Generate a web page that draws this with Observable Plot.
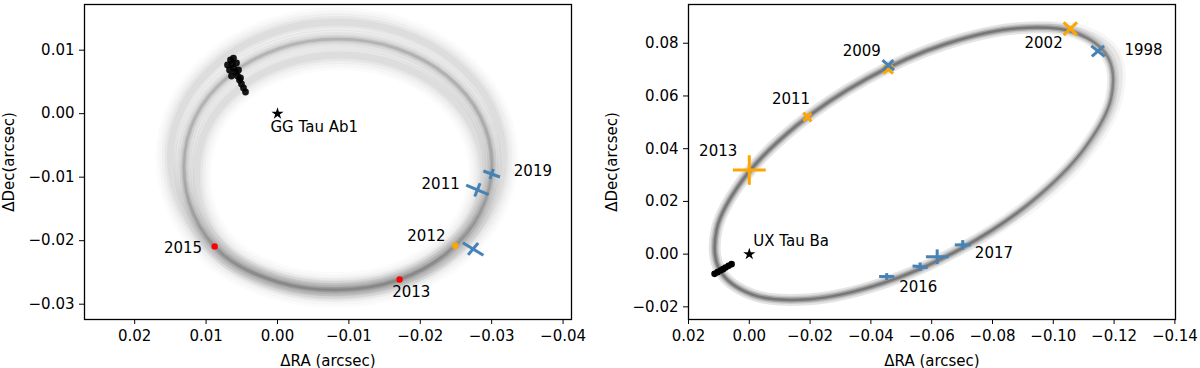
<!DOCTYPE html>
<html><head><meta charset="utf-8">
<script src="https://cdn.jsdelivr.net/npm/d3@7"></script>
<script src="https://cdn.jsdelivr.net/npm/@observablehq/plot@0.6"></script>
<style>
body{margin:0;background:#fff;}
#wrap{display:flex;width:1200px;height:368px;overflow:hidden;}
#wrap svg{display:block;}
</style></head><body><div id="wrap"></div>
<script>
// ================= LEFT PANEL: GG Tau Ab =================
const ggXTicks = [0.02, 0.01, 0.00, -0.01, -0.02, -0.03, -0.04];
const ggYTicks = [0.01, 0.00, -0.01, -0.02, -0.03];
// orbit samples (ΔRA, ΔDec): central, outer and inner envelope of the orbit bundle
const ggOrbitMid = [[-0.03004,-0.00799],[-0.02840,-0.01556],[-0.02373,-0.02195],[-0.01674,-0.02625],[-0.00847,-0.02774],[-0.00021,-0.02656],[0.00742,-0.02239],[0.01176,-0.01578],[0.01310,-0.00799],[0.01146,-0.00042],[0.00678,0.00596],[-0.00021,0.01026],[-0.00847,0.01175],[-0.01674,0.01026],[-0.02373,0.00596],[-0.02840,-0.00042]];
const ggOrbitOuter = [[-0.03165,-0.00689],[-0.02987,-0.01506],[-0.02482,-0.02197],[-0.01725,-0.02659],[-0.00833,-0.02821],[0.00014,-0.02696],[0.00798,-0.02271],[0.01317,-0.01531],[0.01499,-0.00689],[0.01321,0.00127],[0.00815,0.00818],[0.00059,0.01281],[-0.00833,0.01443],[-0.01725,0.01281],[-0.02482,0.00818],[-0.02987,0.00127]];
const ggOrbitInner = [[-0.02885,-0.00902],[-0.02732,-0.01600],[-0.02297,-0.02192],[-0.01644,-0.02589],[-0.00875,-0.02727],[-0.00070,-0.02617],[0.00658,-0.02208],[0.01036,-0.01594],[0.01134,-0.00902],[0.00982,-0.00203],[0.00546,0.00389],[-0.00106,0.00785],[-0.00875,0.00924],[-0.01644,0.00785],[-0.02297,0.00389],[-0.02732,-0.00203]];
const ggCluster = [[0.00658,0.00845],[0.00637,0.00782],[0.00616,0.00719],[0.00588,0.00656],[0.00560,0.00593],[0.00532,0.00530],[0.00504,0.00467],[0.00476,0.00404],[0.00448,0.00341],[0.00700,0.00766],[0.00574,0.00798],[0.00672,0.00688],[0.00546,0.00688],[0.00644,0.00593],[0.00518,0.00562],[0.00616,0.00876]];
const ggStar = [[0, 0]];
const ggRed = [[0.0088,-0.0209],[-0.0171,-0.0261]];
const ggOrange = [[-0.0249,-0.0208]];
// [x, y, arm1 dx, arm1 dy, arm2 dx, arm2 dy]
const ggBlue = [[-0.0280,-0.0120,0.00157,0.00074,-0.00038,0.00105],[-0.0300,-0.0095,0.00116,0.00047,-0.00024,0.00079],[-0.0274,-0.0213,0.00144,0.00099,-0.00070,0.00094]];
const ggLabels = [["GG Tau Ab1",0.00098,-0.00214,"start"],["2015",0.01055,-0.0212,"end"],["2013",-0.01606,-0.02817,"start"],["2012",-0.02353,-0.01924,"end"],["2011",-0.02553,-0.01106,"end"],["2019",-0.0331,-0.00913,"start"]];

// ================= RIGHT PANEL: UX Tau B =================
const uxXTicks = [0.02, 0.00, -0.02, -0.04, -0.06, -0.08, -0.10, -0.12, -0.14];
const uxYTicks = [0.08, 0.06, 0.04, 0.02, 0.00, -0.02];
const uxOrbitMid = [[-0.11797,0.07469],[-0.11901,0.05926],[-0.11015,0.04002],[-0.09278,0.01990],[-0.06951,0.00200],[-0.04392,-0.01102],[-0.01987,-0.01709],[-0.00105,-0.01538],[0.00970,-0.00608],[0.01074,0.00934],[0.00188,0.02859],[-0.01549,0.04870],[-0.03875,0.06661],[-0.06435,0.07962],[-0.08840,0.08570],[-0.10722,0.08399]];
const uxOrbitOuter = [[-0.12017,0.07610],[-0.12102,0.05937],[-0.11180,0.03924],[-0.09400,0.01911],[-0.06951,0.00200],[-0.04392,-0.01102],[-0.01987,-0.01709],[-0.00105,-0.01538],[0.00970,-0.00608],[0.01074,0.00934],[0.00188,0.02859],[-0.01549,0.04870],[-0.03875,0.06661],[-0.06435,0.07962],[-0.08840,0.08570],[-0.10899,0.08482]];
const uxCluster = [[0.01143,-0.00748],[0.01044,-0.00684],[0.00946,-0.00623],[0.00863,-0.00570],[0.00781,-0.00509],[0.00682,-0.00444],[0.00583,-0.00380]];
const uxStar = [[0, 0]];
const uxOrange = [[0.0000,0.0319,0.0054,0,0,0.0056],[-0.0191,0.0520,0.0013,0.0017,-0.0013,0.0015],[-0.0457,0.0700,0.0016,0.0015,-0.0016,0.0015],[-0.1056,0.0855,0.0022,0.0024,-0.0022,0.0024]];
const uxBlue = [[-0.0457,0.0717,0.0019,0.0019,-0.0017,0.0019],[-0.1147,0.0770,0.0022,0.0020,-0.0020,0.0020],[-0.0452,-0.0085,0.0025,0,0,0.0013],[-0.0562,-0.0048,0.0025,0.0003,0,0.0016],[-0.0618,-0.0010,0.0037,0,0,0.0028],[-0.0702,0.0035,0.0026,0,0,0.0018]];
const uxLabels = [["UX Tau Ba",-0.0013,0.00505,"start"],["2013",0.00395,0.0390,"end"],["2011",-0.0200,0.0589,"end"],["2009",-0.0433,0.0770,"end"],["2002",-0.1031,0.0799,"end"],["1998",-0.1234,0.0772,"start"],["2016",-0.0493,-0.0127,"start"],["2017",-0.0742,0.0002,"start"]];

// ================= helpers =================
const BLUE = "#4682b4", ORANGE = "#ffa500";
function band(orbit, layers) {
  return layers.map(([w, a]) => Plot.line(orbit, {
    x: d => d[0], y: d => d[1], curve: "catmull-rom-closed",
    stroke: "#000", strokeOpacity: a, strokeWidth: w, strokeLinejoin: "round"
  }));
}
function crossSegs(list) {
  const segs = [];
  for (const [x, y, a1x, a1y, a2x, a2y] of list) {
    segs.push({x1: x - a1x, y1: y - a1y, x2: x + a1x, y2: y + a1y});
    segs.push({x1: x - a2x, y1: y - a2y, x2: x + a2x, y2: y + a2y});
  }
  return segs;
}
function crosses(list, color) {
  return Plot.link(crossSegs(list), {x1: "x1", y1: "y1", x2: "x2", y2: "y2", stroke: color, strokeWidth: 3, strokeLinecap: "butt"});
}
function labels(list) {
  return ["start", "end"].map(anchor => Plot.text(list.filter(d => d[3] === anchor), {
    x: d => d[1], y: d => d[2], text: d => d[0], textAnchor: anchor,
    lineAnchor: "middle", fill: "#000", fontSize: 15
  }));
}
const style = {fontFamily: "'DejaVu Sans', sans-serif", fontSize: "15px", color: "#000", background: "#fff", overflow: "visible"};

// ================= left plot =================
const soft = [[30, 0.016], [24, 0.02], [18, 0.028], [12, 0.035], [7, 0.04]];
const left = Plot.plot({
  width: 600, height: 368,
  marginLeft: 84, marginRight: 29, marginTop: 4, marginBottom: 49,
  style,
  x: {domain: [0.02703, -0.04118], ticks: ggXTicks, tickFormat: ".2f", tickSize: 5, tickPadding: 6,
      label: "ΔRA (arcsec)", labelAnchor: "center", labelArrow: "none"},
  y: {domain: [-0.03241, 0.01719], ticks: ggYTicks, tickFormat: ".2f", tickSize: 5, tickPadding: 5,
      label: "ΔDec(arcsec)", labelAnchor: "center", labelArrow: "none"},
  marks: [
    ...band(ggOrbitOuter, soft),
    ...band(ggOrbitInner, soft),
    ...band(ggOrbitMid, [[20, 0.03], [14, 0.045], [9, 0.065], [5, 0.09], [2.5, 0.1]]),
    Plot.dot(ggCluster, {x: d => d[0], y: d => d[1], r: 3.4, fill: "#000", fillOpacity: 0.9, stroke: "none"}),
    Plot.dot(ggStar, {x: d => d[0], y: d => d[1], symbol: "star", r: 3.8, fill: "#000", stroke: "none"}),
    Plot.dot(ggRed, {x: d => d[0], y: d => d[1], r: 3.2, fill: "red", stroke: "none"}),
    Plot.dot(ggOrange, {x: d => d[0], y: d => d[1], r: 3.2, fill: ORANGE, stroke: "none"}),
    crosses(ggBlue, BLUE),
    ...labels(ggLabels),
    Plot.frame({stroke: "#000", strokeWidth: 1.3})
  ]
});

// ================= right plot =================
const right = Plot.plot({
  width: 600, height: 368,
  marginLeft: 88, marginRight: 25, marginTop: 4, marginBottom: 49,
  style,
  x: {domain: [0.02, -0.1402], ticks: uxXTicks, tickFormat: ".2f", tickSize: 5, tickPadding: 6,
      label: "ΔRA (arcsec)", labelAnchor: "center", labelArrow: "none"},
  y: {domain: [-0.0248, 0.0947], ticks: uxYTicks, tickFormat: ".2f", tickSize: 5, tickPadding: 5,
      label: "ΔDec(arcsec)", labelAnchor: "center", labelArrow: "none", labelOffset: 82},
  marks: [
    ...band(uxOrbitOuter, [[12, 0.035], [6, 0.06]]),
    ...band(uxOrbitMid, [[12, 0.07], [8, 0.11], [5, 0.16], [2.5, 0.25]]),
    Plot.dot(uxCluster, {x: d => d[0], y: d => d[1], r: 3.3, fill: "#000", stroke: "none"}),
    Plot.dot(uxStar, {x: d => d[0], y: d => d[1], symbol: "star", r: 3.8, fill: "#000", stroke: "none"}),
    crosses(uxOrange, ORANGE),
    crosses(uxBlue, BLUE),
    ...labels(uxLabels),
    Plot.frame({stroke: "#000", strokeWidth: 1.3})
  ]
});

document.getElementById("wrap").append(left, right);
</script>
</body></html>
